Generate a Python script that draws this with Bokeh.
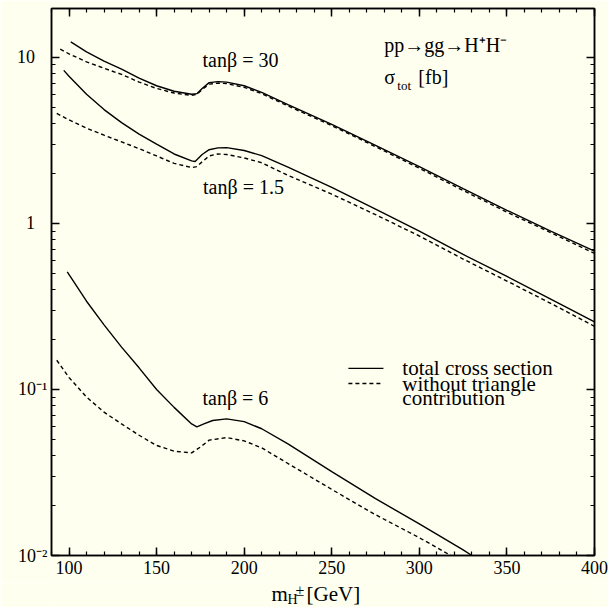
from bokeh.plotting import figure
from bokeh.layouts import column
from bokeh.models import Range1d, LinearAxis, LogAxis, FixedTicker, SingleIntervalTicker, Label
from bokeh.embed import file_html
from bokeh.resources import INLINE

# ---------------- data ----------------
m30_tot = [101, 110, 120, 130, 140, 150, 160, 170, 173, 176, 180, 185, 190, 200, 210, 225, 250, 275, 300, 325, 350, 375, 400]
s30_tot = [12.4, 10.8, 9.5, 8.5, 7.5, 6.75, 6.25, 6.0, 6.05, 6.5, 7.05, 7.15, 7.1, 6.75, 6.15, 5.2, 3.95, 2.95, 2.2, 1.62, 1.2, 0.9, 0.68]
m30_noT = [95, 100, 110, 120, 130, 140, 150, 160, 170, 173, 176, 180, 185, 190, 200, 210, 225, 250, 275, 300, 325, 350, 375, 400]
s30_noT = [11.2, 10.5, 9.4, 8.6, 7.9, 7.1, 6.5, 6.1, 5.9, 6.0, 6.4, 6.9, 7.0, 6.95, 6.6, 6.05, 5.1, 3.88, 2.9, 2.15, 1.58, 1.17, 0.88, 0.66]

m15_tot = [97, 100, 110, 120, 130, 140, 150, 160, 170, 172, 176, 180, 185, 190, 200, 210, 225, 250, 275, 300, 325, 350, 375, 400]
s15_tot = [8.35, 7.7, 6.0, 4.85, 4.05, 3.45, 3.0, 2.62, 2.38, 2.36, 2.6, 2.78, 2.85, 2.86, 2.75, 2.56, 2.18, 1.65, 1.22, 0.9, 0.65, 0.48, 0.35, 0.255]
m15_noT = [93, 100, 110, 120, 130, 140, 150, 160, 170, 173, 176, 180, 185, 190, 200, 210, 225, 250, 275, 300, 325, 350, 375, 400]
s15_noT = [4.6, 4.2, 3.75, 3.4, 3.1, 2.82, 2.55, 2.3, 2.17, 2.2, 2.35, 2.55, 2.62, 2.6, 2.48, 2.32, 1.95, 1.5, 1.13, 0.84, 0.61, 0.45, 0.33, 0.24]

m6_tot = [99, 110, 120, 130, 140, 150, 160, 170, 173, 177, 182, 190, 200, 210, 225, 250, 275, 300, 325, 330]
s6_tot = [0.51, 0.34, 0.245, 0.18, 0.135, 0.1, 0.078, 0.062, 0.0595, 0.062, 0.065, 0.0665, 0.064, 0.058, 0.047, 0.032, 0.022, 0.0155, 0.0108, 0.01]
m6_noT = [93, 100, 110, 120, 130, 140, 150, 160, 170, 175, 180, 190, 200, 210, 220, 250, 275, 300, 318]
s6_noT = [0.15, 0.118, 0.09, 0.073, 0.062, 0.053, 0.046, 0.0425, 0.0415, 0.045, 0.0495, 0.0513, 0.049, 0.0445, 0.0385, 0.025, 0.0176, 0.0128, 0.01]

y_major = [0.01, 0.1, 1, 10]
y_major_labels = ["10\u207b\u00b2", "10\u207b\u00b9", "1\u2002\u2009", "10\u2002\u2009"]
y_minor = [k * d for d in (0.01, 0.1, 1, 10) for k in range(2, 10) if k * d < 20]

FONT = "Liberation Serif"
BG = "#FFFFF0"

p = figure(width=608, height=582, x_range=Range1d(90, 400), y_range=Range1d(0.01, 19.7),
           y_axis_type="log", output_backend="svg", toolbar_location=None,
           min_border_left=51, min_border_right=14, min_border_top=8, min_border_bottom=27,
           background_fill_color=BG, border_fill_color=BG)
p.grid.visible = False
p.outline_line_color = "black"
p.outline_line_width = 1.5

xt = SingleIntervalTicker(interval=50, num_minor_ticks=5)
yt = FixedTicker(ticks=y_major, minor_ticks=y_minor)

p.add_layout(LinearAxis(ticker=xt), "above")
p.add_layout(LogAxis(ticker=yt), "right")
p.xaxis.ticker = xt
p.yaxis.ticker = yt

for ax in p.xaxis + p.yaxis:
    ax.major_tick_in = 8
    ax.major_tick_out = 0
    ax.minor_tick_in = 4
    ax.minor_tick_out = 0
    ax.axis_line_width = 1.5
    ax.major_tick_line_width = 1.5
    ax.minor_tick_line_width = 1.2
    ax.major_label_text_font = FONT
    ax.major_label_text_font_size = "1px"
    ax.major_label_text_color = None
    ax.major_label_standoff = 0

bottom = p.below[0]
bottom.major_label_text_font_size = "18px"
bottom.major_label_text_color = "black"
bottom.major_label_standoff = 5

left = p.left[0]
left.major_label_text_font_size = "18px"
left.major_label_text_color = "black"
left.major_label_standoff = 4
left.major_label_overrides = {v: t for v, t in zip(y_major, y_major_labels)}

# ---------------- curves ----------------
LW = 1.4
DASH = "4 3"
p.line(m30_tot, s30_tot, line_color="black", line_width=LW)
p.line(m30_noT, s30_noT, line_color="black", line_width=LW, line_dash=DASH)
p.line(m15_tot, s15_tot, line_color="black", line_width=LW)
p.line(m15_noT, s15_noT, line_color="black", line_width=LW, line_dash=DASH)
p.line(m6_tot, s6_tot, line_color="black", line_width=LW)
p.line(m6_noT, s6_noT, line_color="black", line_width=LW, line_dash=DASH)

def lab(fig, x, y, text, size=18, align="left", baseline="middle", xo=0, yo=0, yunits="data"):
    fig.add_layout(Label(x=x, y=y, text=text, text_font=FONT, text_font_size=f"{size}px",
                         text_align=align, text_baseline=baseline, x_offset=xo, y_offset=yo,
                         x_units="data", y_units=yunits, text_color="black"))

# curve annotations
lab(p, 197.9, 9.7, "tan\u03b2 = 30", size=20, align="center")
lab(p, 199.6, 1.65, "tan\u03b2 = 1.5", size=20, align="center")
lab(p, 195.0, 0.0883, "tan\u03b2 = 6", size=20, align="center")

# process label
lab(p, 280, 11.8, "pp\u2192gg\u2192H\u207aH\u207b", size=20)
lab(p, 280, 7.6, "\u03c3", size=20)
lab(p, 280, 7.6, "tot", size=13, xo=13, yo=-8)
lab(p, 280, 7.6, "[fb]", size=20, xo=34)

# legend
leg_x0, leg_x1, leg_tx = 259.5, 279.5, 290.3
leg_y = [0.134, 0.1086, 0.0883]
p.line([leg_x0, leg_x1], [leg_y[0], leg_y[0]], line_color="black", line_width=LW)
p.line([leg_x0, leg_x1], [leg_y[1], leg_y[1]], line_color="black", line_width=LW, line_dash=DASH)
lab(p, leg_tx, leg_y[0], "total cross section", size=21)
lab(p, leg_tx, leg_y[1], "without triangle", size=21)
lab(p, leg_tx, leg_y[2], "contribution", size=21)

# ---------------- x axis title strip ----------------
t = figure(width=608, height=25, x_range=p.x_range, y_range=Range1d(0, 1),
           output_backend="svg", toolbar_location=None,
           min_border_left=51, min_border_right=14, min_border_top=0, min_border_bottom=0,
           background_fill_color=BG, border_fill_color=BG)
t.axis.visible = False
t.grid.visible = False
t.outline_line_color = None
tx, ty = 215.6, 14
lab(t, tx, ty, "m", size=21, yunits="screen")
lab(t, tx, ty - 6, "H", size=14, xo=16, yunits="screen")
lab(t, tx, ty + 3, "\u00b1", size=16, xo=24, yunits="screen")
lab(t, tx, ty, "[GeV]", size=21, xo=35, yunits="screen")

layout = column(p, t, spacing=0)
open("out.html", "w").write(file_html(layout, INLINE))
